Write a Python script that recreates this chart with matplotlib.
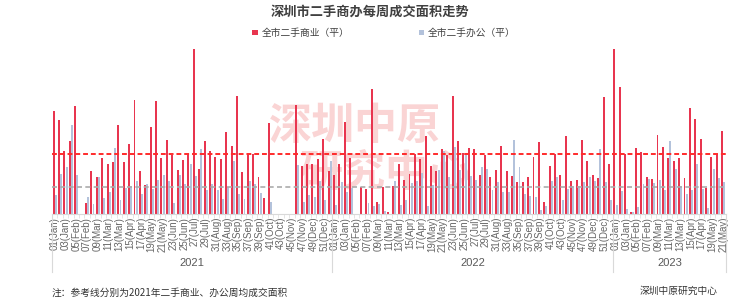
import matplotlib
matplotlib.use("Agg")
import matplotlib.pyplot as plt
import matplotlib.transforms as mtransforms
import numpy as np

plt.rcParams['font.family'] = ['Noto Sans CJK SC', 'DejaVu Sans']

# weekly area, 2021 wk1 .. 2023 wk21
commercial = [10330, 9430, 6330, 7330, 10770, 0, 1130, 4300, 3730, 5600,
              5030, 5170, 8930, 5230, 7030, 11370, 4270, 2870, 8700, 11270,
              5600, 7430, 5930, 4400, 5370, 6000, 16530, 4500, 7270, 6330,
              5670, 5500, 8200, 6830, 11830, 4230, 5970, 5970, 3730, 1570,
              9100, 0, 0, 0, 0, 10930, 4770, 5000, 5000, 5500,
              7530, 4270,
              3930, 5000, 9230, 5600, 0, 2670, 2500, 12500, 1170, 2730,
              170, 2770, 4970, 3430, 4000, 6030, 5470, 7830, 4770, 4330,
              6530, 5930, 11830, 7270, 6130, 6570, 6530, 3870, 5930, 3670,
              4430, 6830, 4270, 3830, 3230, 3200, 3730, 5730, 7200, 1230,
              4800, 6000, 3930, 7770, 3330, 3400, 7430, 5270, 3900, 3570,
              11700, 5030,
              16530, 12700, 6000, 200, 6600, 6170, 3730, 3530, 7900, 6700,
              5600, 5270, 5600, 3600, 10630, 9500, 7530, 2600, 5700, 6000,
              8330]
office = [1930, 4030, 4670, 8870, 3900, 0, 1730, 1000, 3670, 1630,
          2170, 6570, 1430, 2570, 2830, 3330, 1970, 3000, 2500, 3430,
          3930, 3330, 1070, 3930, 3000, 4970, 3830, 6500, 2370, 3000,
          2370, 1530, 2670, 5270, 2030, 1530, 3330, 3030, 2130, 0,
          1230, 0, 0, 0, 0, 4900, 1200, 1930, 1730, 3330,
          1400, 5270,
          930, 3170, 2200, 2600, 0, 0, 1100, 830, 970, 330,
          0, 3330, 870, 1430, 3070, 3270, 4100, 830, 2900, 4370,
          6330, 3670, 6700, 4370, 6030, 3770, 3430, 4670, 4530, 2370,
          3170, 2170, 2170, 7370, 4730, 2000, 1830, 1730, 370, 830,
          3270, 3670, 1430, 2500, 2830, 2770, 3170, 3730, 3270, 6500,
          3230, 1370,
          900, 2270, 500, 170, 730, 3000, 3530, 3070, 3400, 2430,
          7270, 4530, 2770, 2030, 2430, 5000, 2530, 630, 4530, 3570,
          3170]
ref_commercial = 5970
ref_office = 2730

years = ['2021', '2022', '2023']
year_weeks = [52, 52, 21]
ticks_2021 = ['01(Jan)', '03(Jan)', '05(Feb)', '07(Feb)', '09(Mar)', '11(Mar)', '13(Mar)',
              '15(Apr)', '17(Apr)', '19(May)', '21(May)', '23(Jun)', '25(Jun)', '27(Jul)',
              '29(Jul)', '31(Aug)', '33(Aug)', '35(Sep)', '37(Sep)', '39(Sep)', '41(Oct)',
              '43(Oct)', '45(Nov)', '47(Nov)', '49(Dec)', '51(Dec)']
ticks_2022 = list(ticks_2021)
ticks_2023 = ticks_2021[:11]

red = '#E8354F'
blue = '#B3C2DB'

fig = plt.figure(figsize=(7.4, 3.06), dpi=100)
ax = fig.add_axes([52 / 740, 92 / 306, 674 / 740, 170 / 306])

x = np.arange(len(commercial))
ax.bar(x - 0.2, commercial, width=0.36, color=red, label='全市二手商业（平）', zorder=2)
ax.bar(x + 0.2, office, width=0.36, color=blue, label='全市二手办公（平）', zorder=2)
ax.axhline(ref_commercial, color='#FF2B2B', lw=1.4, ls=(0, (2.5, 1.5)), zorder=3)
ax.axhline(ref_office, color='#ABABAB', lw=1.2, ls=(0, (3, 2)), zorder=3)

ax.set_xlim(-0.5, len(commercial) - 0.5)
ax.set_ylim(0, 17000)
ax.set_yticks([])
for s in ['top', 'right', 'left']:
    ax.spines[s].set_visible(False)
ax.spines['bottom'].set_color('#D9D9D9')

# tick labels every other week
pos = []
labs = []
start = 0
for n, tl in zip(year_weeks, [ticks_2021, ticks_2022, ticks_2023]):
    for k, t in enumerate(tl):
        pos.append(start + 2 * k)
        labs.append(t)
    start += n
ax.set_xticks(pos)
ax.set_xticklabels(labs, rotation=90, fontsize=7, color='#666666', family='Liberation Sans')
ax.tick_params(axis='x', length=0, pad=2)
ax.set_xticks(np.arange(-0.5, len(commercial), 1), minor=True)
ax.tick_params(axis='x', which='minor', length=3, color='#E0E0E0', width=0.6)

trans = mtransforms.blended_transform_factory(ax.transData, ax.transAxes)
start = 0
bounds = [-0.5]
for y, n in zip(years, year_weeks):
    ax.text(start + n / 2 - 0.5, -0.29, y, transform=trans, ha='center', va='center',
            fontsize=8, color='#595959', family='Liberation Sans')
    start += n
    bounds.append(start - 0.5)
for b in bounds:
    ax.plot([b, b], [0, -0.34], transform=trans, color='#D9D9D9', lw=0.8, clip_on=False)

fig.text(0.5, 1 - 12 / 306, '深圳市二手商办每周成交面积走势', ha='center', va='center',
         fontsize=9.5, fontweight='bold', color='#404040')
fig.legend(loc='center', bbox_to_anchor=(384 / 740, 1 - 33 / 306), ncol=2, frameon=False,
           fontsize=7, handlelength=0.55, handleheight=0.55, handletextpad=0.35,
           columnspacing=7.2, labelcolor='#404040')

# watermark behind the bars
ax.text(355 / 740, 1 - 126 / 306, '深圳中原', transform=fig.transFigure, ha='center',
        va='center', fontsize=31, fontweight='bold', color='#F4A0A0', alpha=0.45,
        zorder=1, clip_on=False)
ax.text(385 / 740, 1 - 173 / 306, '研究中心', transform=fig.transFigure, ha='center',
        va='center', fontsize=31, fontweight='bold', color='#F4A0A0', alpha=0.45,
        zorder=1, clip_on=False)

fig.text(52 / 740, 1 - 293 / 306, '注：参考线分别为2021年二手商业、办公周均成交面积',
         ha='left', va='center', fontsize=7, color='#333333')
fig.text(718 / 740, 1 - 291 / 306, '深圳中原研究中心', ha='right', va='center',
         fontsize=7, color='#333333')

fig.savefig('out.png', dpi=100)
